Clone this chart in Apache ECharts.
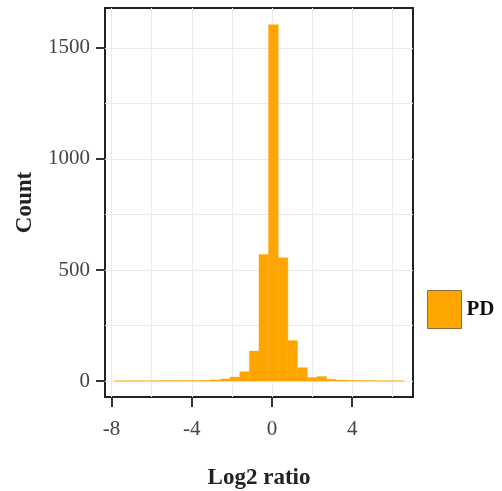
<!DOCTYPE html>
<html style="height: 100%">
<head>
    <meta charset="utf-8">
    <title>Log2 ratio histogram</title>
    <script type="text/javascript" src="https://cdn.jsdelivr.net/npm/echarts@6/dist/echarts.min.js"></script>
</head>
<body style="height: 100%; margin: 0; background: #fff">
<div id="container" style="width: 502px; height: 491px"></div>
<script type="text/javascript">
    // histogram bins (30 bins, ggplot default)
    var binWidth = 0.4814;
    var binCenters = [-7.63, -7.15, -6.67, -6.19, -5.70, -5.22, -4.74, -4.26, -3.78, -3.30,
        -2.82, -2.33, -1.85, -1.37, -0.89, -0.41, 0.07, 0.55, 1.03, 1.52,
        2.00, 2.48, 2.96, 3.44, 3.92, 4.40, 4.89, 5.37, 5.85, 6.33];
    var counts = [1, 1, 1, 1, 1, 2, 2, 2, 2, 3,
        5, 9, 18, 42, 135, 570, 1605, 555, 182, 60,
        16, 20, 8, 4, 3, 2, 2, 1, 1, 1];
    var xTicks = [-8, -4, 0, 4];
    var xMinorTicks = [-6, -2, 2, 6];
    var yTicks = [0, 500, 1000, 1500];
    var yMinorTicks = [250, 750, 1250];
    var seriesName = 'PD';

    var serif = 'Liberation Serif';
    var gridColor = '#ebebeb';

    var data = binCenters.map(function (c, i) {
        return [c - binWidth / 2, c + binWidth / 2, counts[i]];
    });

    function plain(v) {
        return String(v);
    }

    var dom = document.getElementById("container");
    var myChart = echarts.init(dom);
    var option = {
        animation: false,
        grid: {
            left: 105, right: 89, top: 8, bottom: 94,
            outerBoundsMode: 'none',
            containLabel: false,
            show: true,
            borderColor: '#222',
            borderWidth: 2,
            backgroundColor: 'transparent'
        },
        legend: {
            left: 422, top: 285,
            itemWidth: 34, itemHeight: 38,
            icon: 'rect',
            data: [{name: seriesName, itemStyle: {color: '#ffa500', borderColor: '#8c7040', borderWidth: 1}}],
            textStyle: {fontFamily: serif, fontWeight: 'bold', fontSize: 21, color: '#111'},
            itemGap: 4
        },
        xAxis: [{
            type: 'value',
            min: -8.33, max: 7.03,
            name: 'Log2 ratio',
            nameLocation: 'middle',
            nameGap: 70,
            nameTextStyle: {fontFamily: serif, fontWeight: 'bold', fontSize: 23, color: '#222'},
            axisLine: {show: false, onZero: false},
            axisTick: {show: true, customValues: xTicks, length: 10, lineStyle: {color: '#333', width: 2}},
            axisLabel: {customValues: xTicks, formatter: plain, fontFamily: serif, fontSize: 21, color: '#444', margin: 22},
            splitLine: {show: true, lineStyle: {color: gridColor, width: 1}}
        }, {
            type: 'value',
            min: -8.33, max: 7.03,
            axisLine: {show: false, onZero: false},
            axisTick: {show: true, customValues: xMinorTicks, length: 0},
            axisLabel: {show: false},
            splitLine: {show: true, lineStyle: {color: gridColor, width: 1}}
        }],
        yAxis: [{
            type: 'value',
            min: -72, max: 1680,
            name: 'Count',
            nameLocation: 'middle',
            nameGap: 68,
            nameTextStyle: {fontFamily: serif, fontWeight: 'bold', fontSize: 23, color: '#222'},
            axisLine: {show: false, onZero: false},
            axisTick: {show: true, customValues: yTicks, length: 9, lineStyle: {color: '#333', width: 2}},
            axisLabel: {customValues: yTicks, formatter: plain, fontFamily: serif, fontSize: 21, color: '#444', margin: 15},
            splitLine: {show: true, lineStyle: {color: gridColor, width: 1}}
        }, {
            type: 'value',
            min: -72, max: 1680,
            axisLine: {show: false, onZero: false},
            axisTick: {show: true, customValues: yMinorTicks, length: 0},
            axisLabel: {show: false},
            splitLine: {show: true, lineStyle: {color: gridColor, width: 1}}
        }],
        series: [{
            name: seriesName,
            type: 'custom',
            xAxisIndex: 0,
            yAxisIndex: 0,
            itemStyle: {color: '#ffa500'},
            encode: {x: [0, 1], y: 2},
            renderItem: function (params, api) {
                var p0 = api.coord([api.value(0), api.value(2)]);
                var p1 = api.coord([api.value(1), 0]);
                return {
                    type: 'rect',
                    shape: {x: p0[0], y: p0[1], width: p1[0] - p0[0], height: p1[1] - p0[1]},
                    style: {fill: '#ffa500', stroke: '#ffa500', lineWidth: 0.4}
                };
            },
            data: data
        }]
    };
    myChart.setOption(option, true);
</script>
</body>
</html>
